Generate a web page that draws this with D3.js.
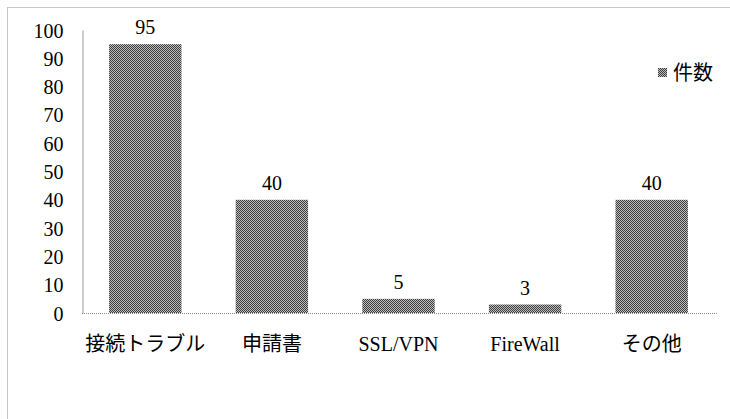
<!DOCTYPE html>
<html>
<head>
<meta charset="utf-8">
<script src="https://cdn.jsdelivr.net/npm/d3@7"></script>
<style>
  html, body { margin: 0; padding: 0; background: #fff; }
</style>
</head>
<body>
<svg id="chart" width="730" height="419"></svg>
<script>
// Inquiry counts by category
const categories = ["接続トラブル", "申請書", "SSL/VPN", "FireWall", "その他"];
const counts = [95, 40, 5, 3, 40];
const yTicks = [0, 10, 20, 30, 40, 50, 60, 70, 80, 90, 100];
const seriesName = "件数";

const FONT = '"Liberation Serif", "Noto Sans CJK JP", serif';

const svg = d3.select("#chart");
const W = 730, H = 419;

// Checkerboard hatch used for the bars and legend swatch
const defs = svg.append("defs");
const pat = defs.append("pattern")
  .attr("id", "checker")
  .attr("patternUnits", "userSpaceOnUse")
  .attr("width", 2).attr("height", 2);
pat.append("rect").attr("width", 2).attr("height", 2).attr("fill", "#bdbdbd");
pat.append("rect").attr("x", 0).attr("y", 0).attr("width", 1).attr("height", 1).attr("fill", "#3c3c3c");
pat.append("rect").attr("x", 1).attr("y", 1).attr("width", 1).attr("height", 1).attr("fill", "#3c3c3c");

// Chart area frame (dotted)
svg.append("rect")
  .attr("x", 7.5).attr("y", 7.5)
  .attr("width", W + 20).attr("height", H + 20)
  .attr("fill", "none")
  .attr("stroke", "#8a8a8a")
  .attr("stroke-dasharray", "1,1");

const plot = { left: 82, right: 715, top: 30, bottom: 313 };

const x = d3.scaleBand()
  .domain(categories)
  .range([plot.left, plot.right])
  .paddingInner(0.428)
  .paddingOuter(0.214);

const y = d3.scaleLinear()
  .domain([0, 100])
  .range([plot.bottom, plot.top]);

// Y axis
const yAxis = d3.axisLeft(y).tickValues(yTicks).tickSize(0).tickPadding(19);
const gy = svg.append("g").attr("transform", `translate(${plot.left + 0.5},0)`).call(yAxis);
gy.attr("font-family", FONT).attr("font-size", 20);
gy.select(".domain").attr("stroke", "#9a9a9a");
gy.selectAll("text")
  .attr("fill", "#000")
  .attr("dy", "0.35em");

// Bars
svg.append("g").selectAll("rect")
  .data(counts)
  .join("rect")
  .attr("x", (d, i) => x(categories[i]))
  .attr("y", d => y(d))
  .attr("width", x.bandwidth())
  .attr("height", d => y(0) - y(d))
  .attr("fill", "url(#checker)");

// Baseline (dotted)
svg.append("line")
  .attr("x1", plot.left).attr("x2", plot.right + 2)
  .attr("y1", y(0) + 0.5).attr("y2", y(0) + 0.5)
  .attr("stroke", "#8a8a8a")
  .attr("stroke-dasharray", "1,1");

// Value labels
svg.append("g")
  .attr("font-family", FONT)
  .attr("font-size", 20)
  .selectAll("text")
  .data(counts)
  .join("text")
  .attr("x", (d, i) => x(categories[i]) + x.bandwidth() / 2)
  .attr("y", d => y(d) - 17)
  .attr("dy", "0.35em")
  .attr("text-anchor", "middle")
  .text(d => d);

// Category labels
const xAxis = d3.axisBottom(x).tickSize(0).tickPadding(24);
const gx = svg.append("g").attr("transform", `translate(0,${plot.bottom})`).call(xAxis);
gx.attr("font-family", FONT).attr("font-size", 20);
gx.select(".domain").remove();
gx.selectAll("text").attr("fill", "#000");

// Legend
const lg = svg.append("g").attr("transform", "translate(658,68)");
lg.append("rect").attr("width", 9).attr("height", 9).attr("fill", "url(#checker)");
lg.append("text")
  .attr("x", 15).attr("y", 4.5)
  .attr("dy", "0.35em")
  .attr("font-family", FONT)
  .attr("font-size", 20)
  .text(seriesName);
</script>
</body>
</html>
